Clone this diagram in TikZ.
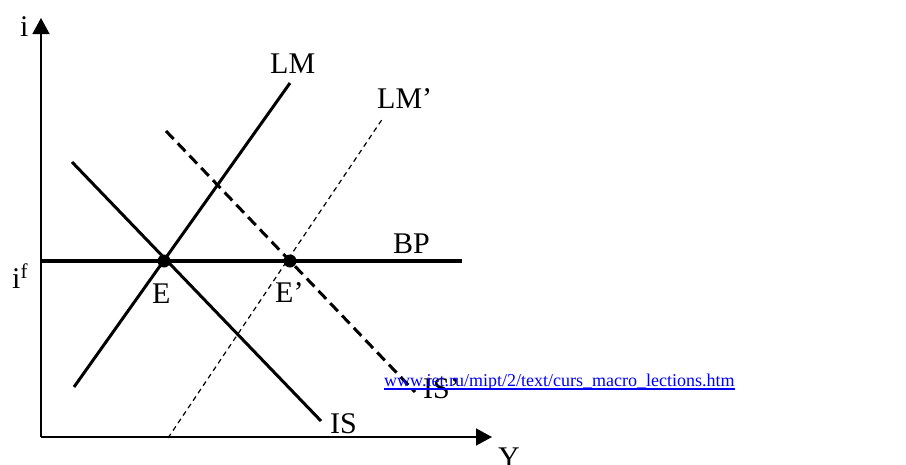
\documentclass[tikz,border=0pt]{standalone}
\usepackage{fontspec}
\setmainfont{Liberation Serif}
\usetikzlibrary{arrows.meta,positioning,calc}

\begin{document}
\begin{tikzpicture}[
    x=1pt, y=-1pt,
    axis/.style={line width=1.5pt, -{Triangle[length=16pt,width=17pt]}},
    curve/.style={line width=3pt},
    shifted/.style={line width=3pt, dash pattern=on 11pt off 6pt},
    shiftedthin/.style={line width=1.2pt, dash pattern=on 5pt off 4pt},
    lbl/.style={anchor=base west, inner sep=0pt, font=\fontsize{30}{36}\selectfont},
    eq/.style={circle, fill, inner sep=0pt, minimum size=13pt}
]
\useasboundingbox (0,0) rectangle (906,464);

% Axes
\coordinate (origin) at (41,437);
\coordinate (itop) at (41,18);
\coordinate (yend) at (492,437);
\draw[axis] (origin) -- (itop);
\draw[axis] (origin) -- (yend);
\node[lbl] (ilabel) at (20,36) {i};
\node[lbl] (ylabel) at (498,467) {Y};
\node[lbl] (iflabel) at (12,288) {i\textsuperscript{f}};

% BP line
\coordinate (bpstart) at (41,261);
\coordinate (bpend) at (462,261);
\draw[line width=3.6pt] (bpstart) -- (bpend);
\node[lbl] (bplabel) at (393,253) {BP};

% LM and IS
\coordinate (lmlow) at (74,387);
\coordinate (lmhigh) at (290,83);
\draw[curve] (lmlow) -- (lmhigh);
\node[lbl] (lmlabel) at (270,73) {LM};

\coordinate (ishigh) at (72,162);
\coordinate (islow) at (321,421);
\draw[curve] (ishigh) -- (islow);
\node[lbl] (islabel) at (330,433) {IS};

% Shifted curves
\coordinate (lmplow) at (168,438);
\coordinate (lmphigh) at (383,118);
\draw[shiftedthin] (lmplow) -- (lmphigh);
\node[lbl] (lmplabel) at (377,108) {LM’};

\coordinate (isphigh) at (166,131);
\coordinate (isplow) at (415,392);
\draw[shifted] (isphigh) -- (isplow);
\node[lbl] (isplabel) at (423,398) {IS’};

% Equilibria
\node[eq] (e) at (164,261) {};
\node[eq] (eprime) at (290,261) {};
\node[lbl] (elabel) at (152,303) {E};
\node[lbl] (eplabel) at (275,302) {E’};

% Source link
\node[anchor=base west, inner sep=0pt, text=blue, font=\fontsize{18}{22}\selectfont] (url) at (384,386) {www.iet.ru/mipt/2/text/curs\_macro\_lections.htm};
\draw[blue, line width=1.5pt] ([yshift=-3pt]url.base west) -- ([yshift=-3pt]url.base east);

\end{tikzpicture}
\end{document}
